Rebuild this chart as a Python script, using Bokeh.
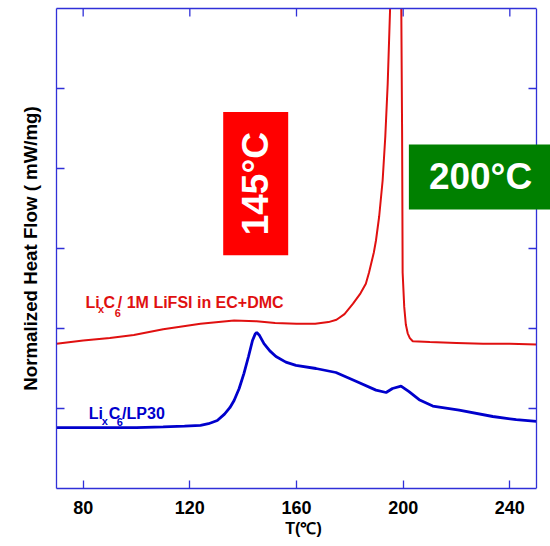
import math
from bokeh.plotting import figure
from bokeh.models import Label, FixedTicker, Range1d, LinearAxis, Span
from bokeh.embed import file_html
from bokeh.resources import INLINE

# ---- data ----
red_t = [70, 80, 90, 99, 110, 124, 136.6, 145, 152, 160, 167, 172, 175, 178, 181.2, 184, 186,
         187.2, 189, 189.8, 191, 192.3, 193.3, 194.2, 195.1, 196, 197, 198.5, 199.2, 199.6, 199.8,
         200.4, 201, 201.7, 202.5, 203.6, 210, 220, 230, 240, 250]
red_y = [1.81, 1.85, 1.88, 1.92, 1.99, 2.06, 2.10, 2.09, 2.07, 2.06, 2.06, 2.08, 2.11, 2.18, 2.31,
         2.44, 2.56, 2.70, 2.95, 3.10, 3.40, 3.85, 4.40, 5.06, 6.0, 7.5, 9.0, 9.0, 6.5, 4.44, 2.70,
         2.27, 2.05, 1.94, 1.88, 1.84, 1.83, 1.82, 1.81, 1.81, 1.80]
blue_t = [70, 80, 90, 100, 110, 118, 124, 127, 130.3, 133, 135, 136.6, 138.5, 140.3, 142, 143.5,
          144.5, 145.1, 146, 147.8, 150, 152.3, 156, 159.8, 167.3, 174.8, 182.3, 189.8, 193.6, 196,
          199.2, 202.2, 206, 211.1, 221, 233.6, 242.4, 250]
blue_y = [0.76, 0.76, 0.76, 0.76, 0.77, 0.78, 0.79, 0.81, 0.85, 0.93, 1.01, 1.10, 1.25, 1.44, 1.65,
          1.85, 1.93, 1.95, 1.92, 1.81, 1.72, 1.65, 1.58, 1.54, 1.50, 1.45, 1.34, 1.23, 1.20, 1.25,
          1.28, 1.21, 1.11, 1.03, 0.98, 0.90, 0.86, 0.84]
x_ticks = [80, 120, 160, 200, 240]
y_ticks = [1, 2, 3, 4, 5]
x_min, x_max = 70, 250
y_min, y_max = 0, 6

FONT = "Liberation Sans"
FRAME = "#3030d8"
RED = "#e01010"
BLUE = "#0000cc"

# the frame runs 14px past x_max so that the 200°C box can reach the page edge
x_view_max = x_max + 14 * (x_max - x_min) / 480

p = figure(width=550, height=546, x_range=Range1d(x_min, x_view_max), y_range=Range1d(y_min, y_max),
           output_backend="svg", toolbar_location=None,
           min_border_left=56, min_border_right=0, min_border_top=8, min_border_bottom=58,
           x_axis_label="T(\u2103)", y_axis_label="Normalized Heat Flow ( mW/mg)")
p.outline_line_color = None
p.grid.visible = False
p.background_fill_color = "white"
p.border_fill_color = "white"

p.add_layout(LinearAxis(ticker=FixedTicker(ticks=[]), major_label_standoff=0), "above")

p.xaxis.bounds = (x_min, x_max)
p.below[0].ticker = FixedTicker(ticks=x_ticks)
p.yaxis.ticker = FixedTicker(ticks=[])

for ax in p.axis:
    ax.axis_line_color = FRAME
    ax.axis_line_width = 1.3
    ax.major_tick_line_color = FRAME
    ax.major_tick_line_width = 1.3
    ax.major_tick_in = 8
    ax.major_tick_out = 0
    ax.minor_tick_line_color = None
    ax.major_label_text_font = FONT
    ax.major_label_text_font_style = "bold"
    ax.major_label_text_font_size = "18px"
    ax.major_label_text_color = "black"
    ax.axis_label_text_font = FONT
    ax.axis_label_text_font_style = "bold"
    ax.axis_label_text_color = "black"

p.yaxis.major_label_standoff = 0
p.yaxis.axis_label_text_font_size = "18.7px"
p.yaxis.axis_label_standoff = 16
p.below[0].axis_label_text_font_size = "16px"
p.below[0].major_label_standoff = 12
p.below[0].axis_label_standoff = 3

# right edge of the frame
p.add_layout(Span(location=x_max, dimension="height", line_color=FRAME, line_width=1.3))

# inward ticks on the left, right and top edges
p.ray(x=[x_min] * len(y_ticks), y=y_ticks, length=8, length_units="screen", angle=0,
      line_color=FRAME, line_width=1.3)
p.ray(x=[x_max] * len(y_ticks), y=y_ticks, length=8, length_units="screen", angle=math.pi,
      line_color=FRAME, line_width=1.3)
p.ray(x=x_ticks, y=[y_max] * len(x_ticks), length=8, length_units="screen", angle=-math.pi / 2,
      line_color=FRAME, line_width=1.3)

p.line(red_t, red_y, line_color=RED, line_width=2)
p.line(blue_t, blue_y, line_color=BLUE, line_width=2.8)

def lab(x, y, t, size, color):
    p.add_layout(Label(x=x, y=y, text=t, text_font=FONT, text_font_style="bold",
                       text_font_size=size, text_color=color, text_baseline="alphabetic",
                       text_align="left"))

# red series label: Li_xC_6/ 1M LiFSI in EC+DMC
lab(80.9, 2.325, "Li", "16px", RED)
lab(85.6, 2.25, "x", "11px", RED)
lab(87.6, 2.325, "C", "16px", RED)
lab(91.8, 2.19, "6", "11px", RED)
lab(93.0, 2.325, "/ 1M LiFSI in EC+DMC", "16px", RED)

# blue series label: Li_xC_6/LP30
lab(82.1, 0.934, "Li", "16px", BLUE)
lab(87.0, 0.84, "x", "11px", BLUE)
lab(89.6, 0.934, "C", "16px", BLUE)
lab(92.6, 0.83, "6", "11px", BLUE)
lab(94.6, 0.934, "/LP30", "16px", BLUE)

# temperature boxes
p.add_layout(Label(x=144.7, y=3.81, text="145\u00b0C", angle=math.pi / 2,
                   text_font=FONT, text_font_style="bold", text_font_size="37px",
                   text_color="white", text_align="center", text_baseline="middle",
                   background_fill_color="#ff0000",
                   padding=dict(left=20, right=20, top=12, bottom=12)))
p.add_layout(Label(x=229.0, y=3.894, text="200\u00b0C",
                   text_font=FONT, text_font_style="bold", text_font_size="37px",
                   text_color="white", text_align="center", text_baseline="middle",
                   background_fill_color="#008000",
                   padding=dict(left=20, right=20, top=12, bottom=12)))

open("out.html", "w").write(file_html(p, INLINE))
